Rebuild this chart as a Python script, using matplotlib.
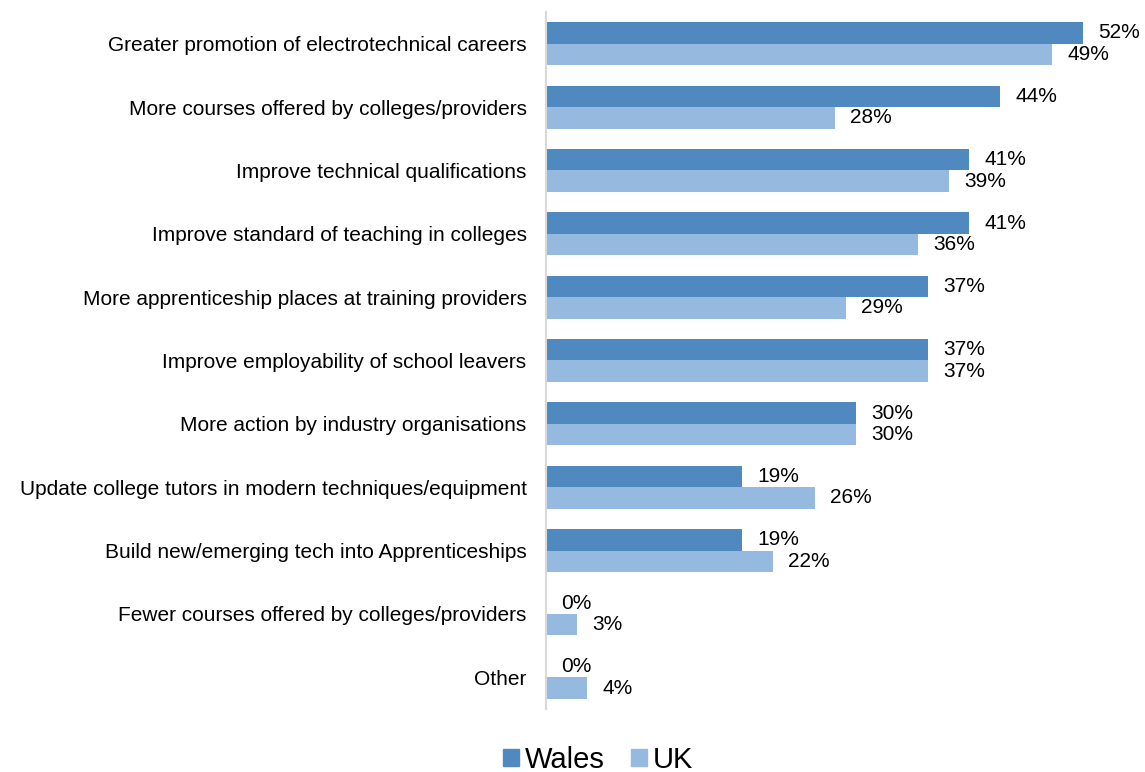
import matplotlib
matplotlib.use('agg')
import matplotlib.pyplot as plt
from matplotlib.patches import Patch

plt.rcParams['font.family'] = ['Liberation Sans', 'DejaVu Sans']

categories = [
    'Greater promotion of electrotechnical careers',
    'More courses offered by colleges/providers',
    'Improve technical qualifications',
    'Improve standard of teaching in colleges',
    'More apprenticeship places at training providers',
    'Improve employability of school leavers',
    'More action by industry organisations',
    'Update college tutors in modern techniques/equipment',
    'Build new/emerging tech into Apprenticeships',
    'Fewer courses offered by colleges/providers',
    'Other',
]
wales = [52, 44, 41, 41, 37, 37, 30, 19, 19, 0, 0]
uk = [49, 28, 39, 36, 29, 37, 30, 26, 22, 3, 4]

WALES_C = '#4F89BF'
UK_C = '#96B9E0'

fig = plt.figure(figsize=(11.45, 7.72), dpi=100)
ax = fig.add_axes([546/1145, 1 - 709/772, 1 - 546/1145, 697/772])

h = 0.34
ypos = list(range(len(categories)))
b1 = ax.barh([y - h/2 for y in ypos], wales, height=h, color=WALES_C)
b2 = ax.barh([y + h/2 for y in ypos], uk, height=h, color=UK_C)

for bars, vals in ((b1, wales), (b2, uk)):
    for bar, v in zip(bars, vals):
        ax.annotate(f'{v}%', (bar.get_width(), bar.get_y() + bar.get_height()/2),
                    xytext=(11, 0), textcoords='offset points',
                    ha='left', va='center', fontsize=15, color='black')

ax.set_xlim(0, 58)
ax.set_ylim(len(categories) - 0.5, -0.5)
ax.set_yticks(ypos)
ax.set_yticklabels(categories, fontsize=15, color='black')
ax.tick_params(axis='y', length=0, pad=14)
ax.set_xticks([])
for s in ['top', 'right', 'bottom']:
    ax.spines[s].set_visible(False)
ax.spines['left'].set_color('#D9D9D9')
ax.spines['left'].set_linewidth(1.5)

handles = [Patch(color=WALES_C, label='Wales'), Patch(color=UK_C, label='UK')]
fig.legend(handles=handles, loc='center', bbox_to_anchor=(598/1145, 1 - 760/772),
           ncol=2, frameon=False, fontsize=21, handlelength=0.55, handleheight=0.55,
           handletextpad=0.2, columnspacing=0.9)

fig.savefig('out.png', dpi=100)
